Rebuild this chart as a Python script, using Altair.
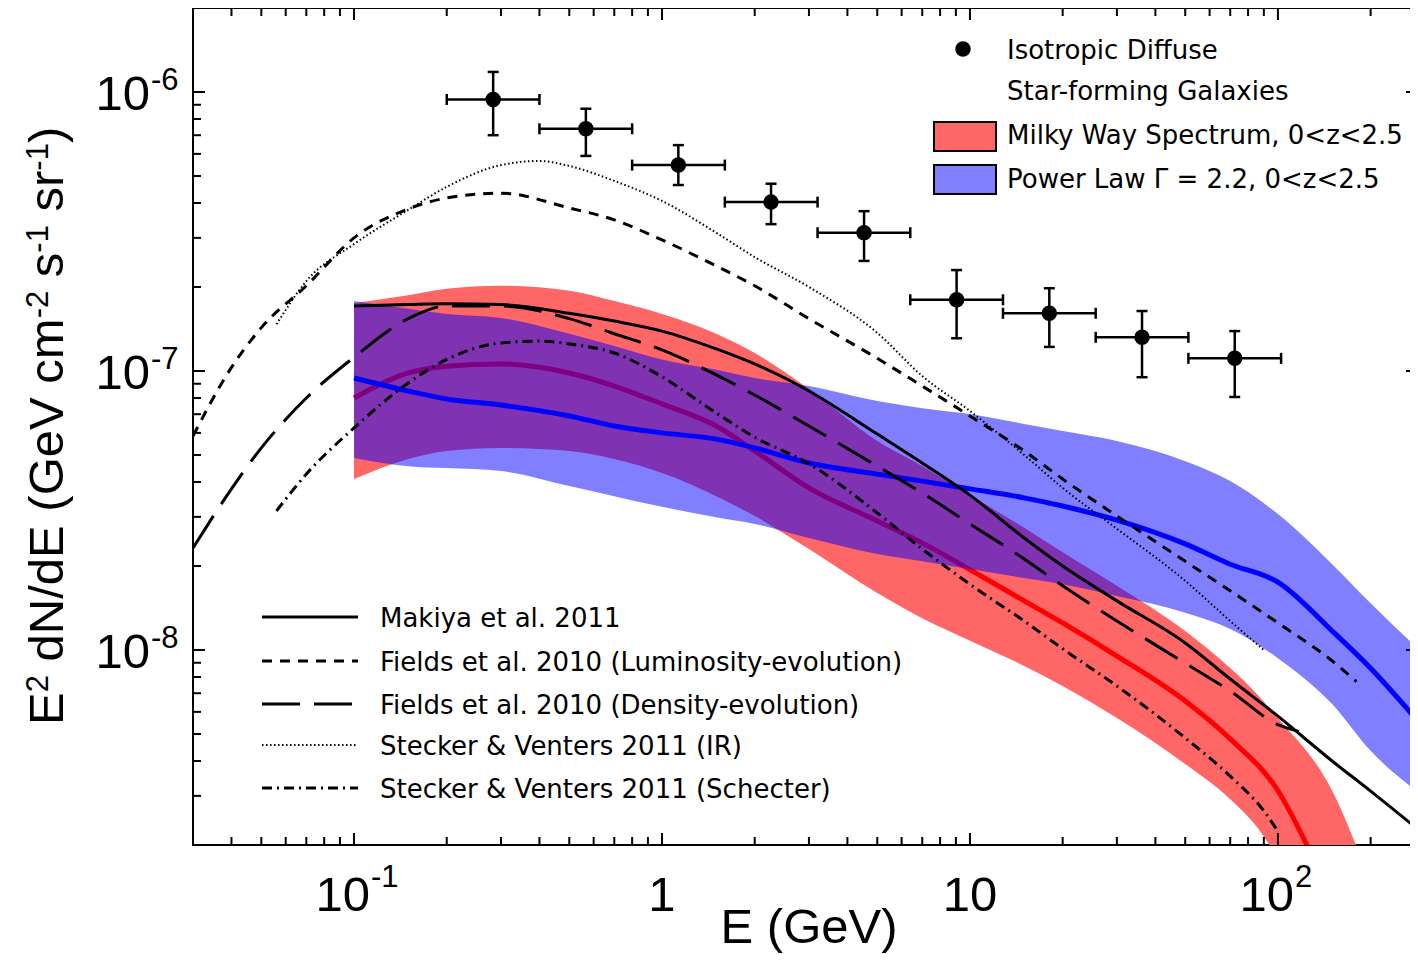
import altair as alt
import pandas as pd

# ---------------- data ----------------
# Isotropic diffuse (Fermi) points
iso_E = [0.283, 0.566, 1.13, 2.26, 4.53, 9.05, 18.1, 36.2, 72.4]
iso_E_lo = [0.2, 0.4, 0.8, 1.6, 3.2, 6.4, 12.8, 25.6, 51.2]
iso_E_hi = [0.4, 0.8, 1.6, 3.2, 6.4, 12.8, 25.6, 51.2, 102.4]
iso_F = [9.4e-7, 7.38e-7, 5.47e-7, 4.03e-7, 3.13e-7, 1.80e-7, 1.61e-7, 1.32e-7, 1.11e-7]
iso_F_hi = [1.18e-6, 8.71e-7, 6.45e-7, 4.69e-7, 3.74e-7, 2.30e-7, 1.98e-7, 1.64e-7, 1.39e-7]
iso_F_lo = [7.0e-7, 5.9e-7, 4.64e-7, 3.36e-7, 2.48e-7, 1.31e-7, 1.22e-7, 9.5e-8, 8.07e-8]

# Milky Way spectrum band (red)
red_E = [0.1, 0.15, 0.2, 0.3, 0.5, 0.7, 1, 1.5, 2, 3, 5, 7, 10, 15, 20, 30, 50, 70, 85, 100, 150, 190]
red_hi = [1.75e-7, 1.87e-7, 1.97e-7, 2.02e-7, 1.94e-7, 1.78e-7, 1.60e-7, 1.36e-7, 1.16e-7, 8.61e-8,
          5.61e-8, 4.56e-8, 3.59e-8, 2.74e-8, 2.24e-8, 1.70e-8, 1.17e-8, 8.61e-9, 7.0e-9, 5.70e-9,
          3.13e-9, 1.7e-9]
red_lo = [4.10e-8, 4.84e-8, 5.17e-8, 5.30e-8, 5.17e-8, 4.84e-8, 4.31e-8, 3.56e-8, 3.02e-8, 2.30e-8,
          1.60e-8, 1.30e-8, 1.08e-8, 8.77e-9, 7.43e-9, 5.70e-9, 3.90e-9, 2.92e-9, 2.34e-9, 1.8e-9,
          1.0e-9, 7e-10]
red_line_E = [0.1, 0.15, 0.2, 0.3, 0.5, 0.7, 1, 1.5, 2, 3, 5, 7, 10, 15, 20, 30, 50, 70, 100, 130]
red_line_F = [8.0e-8, 9.84e-8, 1.04e-7, 1.06e-7, 9.84e-8, 8.83e-8, 7.62e-8, 6.35e-8, 5.17e-8, 3.81e-8,
              2.90e-8, 2.42e-8, 1.94e-8, 1.50e-8, 1.25e-8, 9.51e-9, 6.56e-9, 4.80e-9, 3.13e-9, 1.8e-9]

# Power law band (blue)
blue_E = [0.1, 0.15, 0.2, 0.3, 0.5, 0.7, 1, 1.5, 2, 3, 5, 7, 10, 15, 20, 30, 50, 70, 100, 150, 200, 290]
blue_hi = [1.78e-7, 1.67e-7, 1.60e-7, 1.55e-7, 1.36e-7, 1.23e-7, 1.10e-7, 1.01e-7, 9.44e-8, 8.83e-8,
           7.8e-8, 7.36e-8, 7.01e-8, 6.46e-8, 6.09e-8, 5.61e-8, 4.75e-8, 4.03e-8, 3.07e-8, 2.03e-8,
           1.47e-8, 9.91e-9]
blue_mid = [9.44e-8, 8.48e-8, 7.94e-8, 7.55e-8, 6.90e-8, 6.35e-8, 6.0e-8, 5.70e-8, 5.30e-8, 4.68e-8,
            4.27e-8, 4.03e-8, 3.78e-8, 3.51e-8, 3.28e-8, 2.92e-8, 2.40e-8, 2.03e-8, 1.75e-8, 1.17e-8,
            8.6e-9, 5.43e-9]
blue_lo = [4.88e-8, 4.56e-8, 4.49e-8, 4.38e-8, 3.87e-8, 3.56e-8, 3.26e-8, 2.99e-8, 2.83e-8, 2.52e-8,
           2.21e-8, 2.08e-8, 1.95e-8, 1.81e-8, 1.72e-8, 1.56e-8, 1.36e-8, 1.19e-8, 9.35e-9, 6.40e-9,
           4.35e-9, 3.05e-9]

# Model curves
mak_E = [0.1, 0.15, 0.2, 0.3, 0.5, 0.7, 1, 1.5, 2, 3, 5, 7, 10, 15, 20, 30, 50, 70, 100, 150, 200, 290]
mak_F = [1.71e-7, 1.73e-7, 1.74e-7, 1.73e-7, 1.61e-7, 1.51e-7, 1.39e-7, 1.20e-7, 1.06e-7, 8.48e-8,
         5.94e-8, 4.68e-8, 3.59e-8, 2.52e-8, 2.0e-8, 1.50e-8, 1.06e-8, 7.87e-9, 5.79e-9, 4.0e-9,
         3.12e-9, 2.24e-9]
lum_E = [0.03, 0.04, 0.05, 0.07, 0.1, 0.15, 0.2, 0.3, 0.5, 0.7, 1, 1.5, 2, 3, 5, 7, 10, 15, 20, 30,
         50, 70, 100, 150, 180]
lum_F = [5.85e-8, 1.03e-7, 1.43e-7, 2.02e-7, 3.0e-7, 3.81e-7, 4.17e-7, 4.34e-7, 3.84e-7, 3.48e-7,
         2.95e-7, 2.38e-7, 2.02e-7, 1.54e-7, 1.11e-7, 8.83e-8, 6.90e-8, 5.17e-8, 4.10e-8, 3.02e-8,
         2.08e-8, 1.63e-8, 1.25e-8, 9.14e-9, 7.7e-9]
den_E = [0.03, 0.04, 0.05, 0.07, 0.1, 0.15, 0.2, 0.3, 0.5, 0.7, 1, 1.5, 2, 3, 5, 7, 10, 15, 20, 30,
         50, 70, 100, 117]
den_F = [2.32e-8, 3.78e-8, 5.30e-8, 8.0e-8, 1.12e-7, 1.54e-7, 1.71e-7, 1.71e-7, 1.54e-7, 1.36e-7,
         1.19e-7, 9.68e-8, 8.2e-8, 6.35e-8, 4.56e-8, 3.65e-8, 2.83e-8, 2.12e-8, 1.70e-8, 1.27e-8,
         8.97e-9, 7.13e-9, 5.4e-9, 5.1e-9]
ir_E = [0.056, 0.07, 0.1, 0.15, 0.2, 0.3, 0.4, 0.5, 0.7, 1, 1.5, 2, 3, 5, 7, 10, 15, 20, 30, 50, 70,
        90]
ir_F = [1.47e-7, 2.10e-7, 2.85e-7, 3.78e-7, 4.57e-7, 5.47e-7, 5.66e-7, 5.43e-7, 4.80e-7, 4.07e-7,
        3.13e-7, 2.56e-7, 2.0e-7, 1.37e-7, 9.59e-8, 7.19e-8, 5.0e-8, 3.81e-8, 2.72e-8, 1.77e-8,
        1.27e-8, 1.0e-8]
sch_E = [0.056, 0.07, 0.1, 0.15, 0.2, 0.3, 0.4, 0.5, 0.7, 1, 1.5, 2, 3, 5, 7, 10, 15, 20, 30, 50, 70,
         90, 100]
sch_F = [3.15e-8, 4.27e-8, 6.25e-8, 9.06e-8, 1.10e-7, 1.26e-7, 1.28e-7, 1.25e-7, 1.16e-7, 9.53e-8,
         7.07e-8, 5.79e-8, 4.65e-8, 3.10e-8, 2.30e-8, 1.72e-8, 1.27e-8, 1.01e-8, 7.43e-9, 4.84e-9,
         3.53e-9, 2.65e-9, 2.24e-9]

# Axis ticks and labels
x_major = [0.1, 1, 10, 100]
x_plain_vals, x_plain_text = [1, 10], ["1", "10"]
x_pow_vals, x_pow_base, x_pow_exp = [0.1, 100], ["10", "10"], ["-1", "2"]
x_minor = [0.04, 0.05, 0.06, 0.07, 0.08, 0.09, 0.2, 0.3, 0.4, 0.5, 0.6, 0.7, 0.8, 0.9,
           2, 3, 4, 5, 6, 7, 8, 9, 20, 30, 40, 50, 60, 70, 80, 90, 200]
y_major = [1e-8, 1e-7, 1e-6]
y_major_base = ["10", "10", "10"]
y_major_exp = ["-8", "-7", "-6"]
y_minor = [3e-9, 4e-9, 5e-9, 6e-9, 7e-9, 8e-9, 9e-9, 2e-8, 3e-8, 4e-8, 5e-8, 6e-8, 7e-8, 8e-8, 9e-8,
           2e-7, 3e-7, 4e-7, 5e-7, 6e-7, 7e-7, 8e-7, 9e-7]

x_title = "E (GeV)"
# (text, is_superscript)
y_title_parts = [("E", False), ("2", True), (" dN/dE (GeV cm", False), ("-2", True),
                 (" s", False), ("-1", True), (" sr", False), ("-1", True), (")", False)]

legend_top_labels = ["Isotropic Diffuse", "Star-forming Galaxies",
                     "Milky Way Spectrum, 0<z<2.5", "Power Law \u0393 = 2.2, 0<z<2.5"]
legend_line_labels = ["Makiya et al. 2011", "Fields et al. 2010 (Luminosity-evolution)",
                      "Fields et al. 2010 (Density-evolution)", "Stecker & Venters 2011 (IR)",
                      "Stecker & Venters 2011 (Schecter)"]

# ---------------- styling ----------------
W, H = 1225, 837
FONT = "Liberation Sans, Arial, sans-serif"
LFONT = "DejaVu Sans, sans-serif"
BIG, SUP = 49, 31          # font sizes for axis text / superscripts
LEG = 26                   # legend font size
RED_FILL = "#FF6666"
BLUE = "#0000FF"
BLUE_OP = 0.5

xs = alt.Scale(type="log", domain=[0.03, 285], nice=False)
ys = alt.Scale(type="log", domain=[2e-9, 2e-6], nice=False)

# Arial / Liberation Sans advance widths (1/1000 em) for placing the rotated title pieces
ADV = {'E': 667, ' ': 278, 'd': 556, 'N': 722, '/': 278, '(': 333, 'G': 778, 'e': 556,
       'V': 667, 'c': 500, 'm': 833, 's': 500, 'r': 333, ')': 333, '-': 333, '1': 556, '2': 556}


def tw(s, size):
    return sum(ADV[c] for c in s) / 1000.0 * size


def X(field):
    return alt.X(field, scale=xs, axis=None)


def Y(field):
    return alt.Y(field, scale=ys, axis=None)


layers = []

# red band
red_df = pd.DataFrame({"E": red_E, "lo": red_lo, "hi": red_hi})
layers.append(alt.Chart(red_df).mark_area(color=RED_FILL, clip=True, interpolate="monotone",
                                          orient="vertical").encode(
    x=X("E:Q"), y=Y("lo:Q"), y2="hi:Q"))
layers.append(alt.Chart(pd.DataFrame({"E": red_line_E, "F": red_line_F})).mark_line(
    color="#FF0000", strokeWidth=5, clip=True, interpolate="monotone").encode(
    x=X("E:Q"), y=Y("F:Q")))

# blue band
blue_df = pd.DataFrame({"E": blue_E, "lo": blue_lo, "hi": blue_hi, "mid": blue_mid})
layers.append(alt.Chart(blue_df).mark_area(color=BLUE, opacity=BLUE_OP, clip=True,
                                           interpolate="monotone", orient="vertical").encode(
    x=X("E:Q"), y=Y("lo:Q"), y2="hi:Q"))
layers.append(alt.Chart(blue_df).mark_line(color=BLUE, strokeWidth=5, clip=True,
                                           interpolate="monotone").encode(
    x=X("E:Q"), y=Y("mid:Q")))

# model curves
STYLES = {
    "mak": dict(strokeWidth=3),
    "lum": dict(strokeWidth=3, strokeDash=[10, 8]),
    "den": dict(strokeWidth=3, strokeDash=[38, 14]),
    "ir": dict(strokeWidth=2, strokeDash=[1.5, 2.5]),
    "sch": dict(strokeWidth=3, strokeDash=[10, 5, 2, 5]),
}
for key, E, F in [("mak", mak_E, mak_F), ("lum", lum_E, lum_F), ("den", den_E, den_F),
                  ("ir", ir_E, ir_F), ("sch", sch_E, sch_F)]:
    layers.append(alt.Chart(pd.DataFrame({"E": E, "F": F})).mark_line(
        color="black", clip=True, interpolate="monotone", **STYLES[key]).encode(
        x=X("E:Q"), y=Y("F:Q")))

# isotropic diffuse points with error bars
iso_df = pd.DataFrame({"E": iso_E, "Elo": iso_E_lo, "Ehi": iso_E_hi,
                       "F": iso_F, "Flo": iso_F_lo, "Fhi": iso_F_hi})
base = alt.Chart(iso_df)
layers.append(base.mark_rule(color="black", strokeWidth=2.5).encode(
    x=X("Elo:Q"), x2="Ehi:Q", y=Y("F:Q")))
layers.append(base.mark_rule(color="black", strokeWidth=2.5).encode(
    x=X("E:Q"), y=Y("Flo:Q"), y2="Fhi:Q"))
for f in ["Elo:Q", "Ehi:Q"]:
    layers.append(base.mark_tick(color="black", orient="vertical", size=11, thickness=2.5,
                                 opacity=1).encode(x=X(f), y=Y("F:Q")))
for f in ["Flo:Q", "Fhi:Q"]:
    layers.append(base.mark_tick(color="black", orient="horizontal", size=11, thickness=2.5,
                                 opacity=1).encode(x=X("E:Q"), y=Y(f)))
layers.append(base.mark_point(filled=True, shape="circle", size=240, color="black",
                              opacity=1).encode(x=X("E:Q"), y=Y("F:Q")))

# axis ticks (inside, on all four sides)
for vals, ln in [(x_major, 12), (x_minor, 8)]:
    d = alt.Chart(pd.DataFrame({"v": vals}))
    layers.append(d.mark_rule(color="black", strokeWidth=2).encode(
        x=X("v:Q"), y=alt.value(H), y2=alt.value(H - ln)))
    layers.append(d.mark_rule(color="black", strokeWidth=2).encode(
        x=X("v:Q"), y=alt.value(0), y2=alt.value(ln)))
for vals, ln in [(y_major, 12), (y_minor, 8)]:
    d = alt.Chart(pd.DataFrame({"v": vals}))
    layers.append(d.mark_rule(color="black", strokeWidth=2).encode(
        y=Y("v:Q"), x=alt.value(0), x2=alt.value(ln)))
    layers.append(d.mark_rule(color="black", strokeWidth=2).encode(
        y=Y("v:Q"), x=alt.value(W), x2=alt.value(W - ln)))

# ---- tick labels ----
XLAB_BASE = 903   # baseline of x tick labels (px below plot top)
layers.append(alt.Chart(pd.DataFrame({"v": x_plain_vals, "t": x_plain_text})).mark_text(
    align="center", baseline="alphabetic", font=FONT, fontSize=BIG, color="black").encode(
    x=X("v:Q"), y=alt.value(XLAB_BASE), text="t:N"))
layers.append(alt.Chart(pd.DataFrame({"v": x_pow_vals, "t": x_pow_base})).mark_text(
    align="right", baseline="alphabetic", font=FONT, fontSize=BIG, color="black", dx=16).encode(
    x=X("v:Q"), y=alt.value(XLAB_BASE), text="t:N"))
layers.append(alt.Chart(pd.DataFrame({"v": x_pow_vals, "t": x_pow_exp})).mark_text(
    align="left", baseline="alphabetic", font=FONT, fontSize=SUP, color="black", dx=17).encode(
    x=X("v:Q"), y=alt.value(XLAB_BASE - 24), text="t:N"))

ylab = pd.DataFrame({"v": y_major, "b": y_major_base, "e": y_major_exp})
layers.append(alt.Chart(ylab).mark_text(
    align="right", baseline="alphabetic", font=FONT, fontSize=BIG, color="black", dy=18).encode(
    y=Y("v:Q"), x=alt.value(-43), text="b:N"))
layers.append(alt.Chart(ylab).mark_text(
    align="left", baseline="alphabetic", font=FONT, fontSize=SUP, color="black", dy=-2).encode(
    y=Y("v:Q"), x=alt.value(-42), text="e:N"))

# ---- axis titles ----
layers.append(alt.Chart(pd.DataFrame({"t": [x_title]})).mark_text(
    align="center", baseline="alphabetic", font=FONT, fontSize=BIG, color="black").encode(
    x=alt.value(616), y=alt.value(935), text="t:N"))

cursor = 717.0
for txt, sup in y_title_parts:
    size = SUP if sup else BIG
    if txt.startswith(" "):
        cursor -= tw(" ", BIG)
        txt = txt.lstrip()
    layers.append(alt.Chart(pd.DataFrame({"t": [txt]})).mark_text(
        align="left", baseline="alphabetic", font=FONT, fontSize=size, color="black",
        angle=270).encode(
        x=alt.value(-145 if sup else -130), y=alt.value(cursor), text="t:N"))
    cursor -= tw(txt, size)

# ---- top-right legend ----
one = pd.DataFrame({"k": [0]})
layers.append(alt.Chart(one).mark_point(filled=True, shape="circle", size=240, color="black",
                                        opacity=1).encode(x=alt.value(770), y=alt.value(41)))
layers.append(alt.Chart(one).mark_rect(fill=RED_FILL, stroke="black", strokeWidth=2).encode(
    x=alt.value(741), x2=alt.value(803), y=alt.value(114), y2=alt.value(143)))
layers.append(alt.Chart(one).mark_rect(fill="white", stroke="black", strokeWidth=2).encode(
    x=alt.value(741), x2=alt.value(803), y=alt.value(157), y2=alt.value(186)))
layers.append(alt.Chart(one).mark_rect(fill=BLUE, fillOpacity=BLUE_OP).encode(
    x=alt.value(742), x2=alt.value(802), y=alt.value(158), y2=alt.value(185)))
for lab, yy in zip(legend_top_labels, [43, 84, 128, 172]):
    layers.append(alt.Chart(pd.DataFrame({"t": [lab]})).mark_text(
        align="left", baseline="middle", font=LFONT, fontSize=LEG, color="black").encode(
        x=alt.value(814), y=alt.value(yy), text="t:N"))

# ---- bottom-left legend ----
leg_keys = ["mak", "lum", "den", "ir", "sch"]
leg_y = [609, 653, 696, 737, 780]
for key, lab, yy in zip(leg_keys, legend_line_labels, leg_y):
    layers.append(alt.Chart(one).mark_rule(color="black", **STYLES[key]).encode(
        x=alt.value(69), x2=alt.value(165), y=alt.value(yy)))
    layers.append(alt.Chart(pd.DataFrame({"t": [lab]})).mark_text(
        align="left", baseline="middle", font=LFONT, fontSize=LEG, color="black").encode(
        x=alt.value(187), y=alt.value(yy + 2), text="t:N"))

chart = alt.layer(*layers).properties(
    width=W, height=H,
    autosize=alt.AutoSizeParams(type="none"),
    padding={"left": 185, "top": 0, "right": -8, "bottom": 112},
    background="white",
).configure_view(stroke="black", strokeWidth=2)

chart.save("out.html", embed_options={"renderer": "svg", "actions": False})
